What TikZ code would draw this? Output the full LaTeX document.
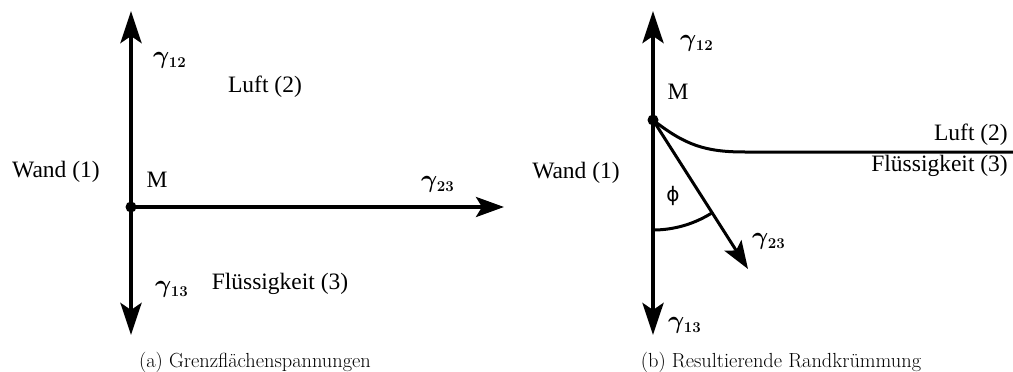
\documentclass[tikz,border=0pt]{standalone}
\usepackage{fontspec}
\usepackage{amsmath}
\newfontfamily\lblfont{Liberation Serif}
\newfontfamily\phifont{DejaVu Sans}
\usetikzlibrary{arrows.meta}
\newcommand\gammalbl[1]{{\fontsize{24}{28}\selectfont\boldmath$\gamma$}\kern-0.5pt\raisebox{-4pt}{\fontsize{15}{18}\selectfont\bfseries #1}}
\begin{document}
\begin{tikzpicture}[x=1pt,y=-1pt,
  axis/.style={line width=4.5pt,-{Stealth[length=32pt,width=21pt,inset=7pt]}},
  vec/.style={line width=3.5pt,-{Stealth[length=28pt,width=20pt,inset=6pt]}},
  curveline/.style={line width=3pt},
  lbl/.style={font=\lblfont\fontsize{23.5}{28}\selectfont,inner sep=0pt},
  gam/.style={inner sep=0pt,anchor=west},
  captxt/.style={font=\fontsize{20.4}{24}\selectfont,inner sep=0pt},
  dot/.style={circle,fill=black,inner sep=0pt,minimum size=11pt}]
\useasboundingbox (0,0) rectangle (1013,372);
% ---- panel (a)
\node[dot] (M1) at (131,207) {};
\coordinate (T1) at (131,11);
\coordinate (B1) at (131,335);
\coordinate (R1) at (504,207);
\draw[axis] (M1.center) -- (T1);
\draw[axis] (M1.center) -- (B1);
\draw[vec] (M1.center) -- (R1);
\node[gam] (g12a) at (153,60) {\gammalbl{12}};
\node[gam] (g13a) at (155,289) {\gammalbl{13}};
\node[gam] (g23a) at (421,184) {\gammalbl{23}};
\node[lbl] (luft1) at (265,87) {Luft (2)};
\node[lbl] (wand1) at (56,172) {Wand (1)};
\node[lbl] (m1) at (157,180) {M};
\node[lbl] (fl1) at (280,284) {Flüssigkeit (3)};
\node[captxt] (capa) at (255,362) {(a) Grenzflächenspannungen};
% ---- panel (b)
\node[dot] (M2) at (653,120) {};
\coordinate (T2) at (653,11);
\coordinate (B2) at (653,335);
\coordinate (V2) at (748,269);
\coordinate (S2) at (745,152);
\coordinate (E2) at (1013,152);
\draw[axis] (M2.center) -- (T2);
\draw[axis] (M2.center) -- (B2);
\draw[vec,line width=3pt] (M2.center) -- (V2);
\draw[curveline] (M2.center) .. controls (685,145) and (705,152) .. (S2) -- (E2);
\draw[curveline] (M2.center) ++(90:110) arc[start angle=90,end angle=57.6,radius=110];
\node[gam] (g12b) at (680,43) {\gammalbl{12}};
\node[gam] (g13b) at (668,325) {\gammalbl{13}};
\node[gam] (g23b) at (752,241) {\gammalbl{23}};
\node[inner sep=0pt,font=\phifont\fontsize{20}{24}\selectfont] (phi) at (673,196) {ϕ};
\node[lbl] (m2) at (678,92) {M};
\node[lbl] (wand2) at (576,173) {Wand (1)};
\node[lbl,anchor=east] (luft2) at (1008,135) {Luft (2)};
\node[lbl,anchor=east] (fl2) at (1008,166) {Flüssigkeit (3)};
\node[captxt] (capb) at (781,362) {(b) Resultierende Randkrümmung};
\end{tikzpicture}
\end{document}
